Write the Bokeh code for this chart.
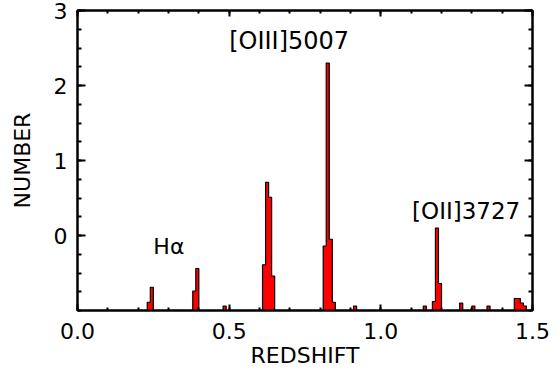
from bokeh.plotting import figure
from bokeh.models import (Range1d, FixedTicker, PrintfTickFormatter, LinearAxis,
                          ColumnDataSource, CustomJSTickFormatter)
from bokeh.core.properties import value
from bokeh.embed import file_html
from bokeh.resources import INLINE

# ---- data ----
bin_width = 0.01
bin_left = [0.23, 0.24, 0.38, 0.39, 0.48, 0.61, 0.62, 0.63, 0.64,
            0.81, 0.82, 0.83, 0.84, 0.91, 1.14, 1.17, 1.18, 1.19,
            1.26, 1.30, 1.35, 1.44, 1.45, 1.46, 1.47]
counts = [-0.89, -0.69, -0.74, -0.44, -0.94, -0.39, 0.71, 0.51, -0.54,
          -0.14, 2.30, -0.05, -0.89, -0.94, -0.94, -0.88, 0.10, -0.64,
          -0.90, -0.94, -0.94, -0.84, -0.84, -0.90, -0.94]
y_base = -1.0

x_ticks = [0.0, 0.5, 1.0, 1.5]
x_minor = [i / 10 for i in range(0, 16)]
y_ticks = [0, 1, 2, 3]
y_minor = [-1 + i * 0.25 for i in range(0, 17)]

ann_text = ["H\u03b1", "[OIII]5007", "[OII]3727"]
ann_x = [0.25, 0.50, 1.103]
ann_y = [-0.15, 2.59, 0.33]
ann_size = ["22px", "24px", "23px"]

FONT = "DejaVu Sans"

# ---- group contiguous bins into filled step outlines ----
groups = []
for l, c in zip(bin_left, counts):
    if groups and abs(groups[-1][-1][0] + bin_width - l) < 1e-6:
        groups[-1].append((l, c))
    else:
        groups.append([(l, c)])
xs, ys = [], []
for g in groups:
    gx, gy = [g[0][0]], [y_base]
    for l, c in g:
        gx += [l, l + bin_width]
        gy += [c, c]
    gx.append(g[-1][0] + bin_width)
    gy.append(y_base)
    xs.append(gx)
    ys.append(gy)

p = figure(frame_width=455, frame_height=300, output_backend="svg",
           toolbar_location=None, x_range=Range1d(0, 1.5), y_range=Range1d(-1, 3),
           min_border_left=77, min_border_top=10, min_border_right=24,
           min_border_bottom=60)
p.xgrid.visible = False
p.ygrid.visible = False
p.background_fill_color = "white"
p.border_fill_color = "white"
p.outline_line_color = "black"
p.outline_line_width = 2

p.patches(xs=xs, ys=ys, fill_color="#ff0000", line_color="black", line_width=1.2)

tsrc = ColumnDataSource(dict(x=ann_x, y=ann_y, text=ann_text, size=ann_size))
p.text(x="x", y="y", text="text", source=tsrc, text_font=value(FONT),
       text_font_size="size", text_color="black", text_align="left",
       text_baseline="alphabetic")

def style(ax, major_len, minor_len):
    ax.axis_line_width = 2
    ax.axis_line_color = "black"
    ax.major_tick_in = major_len
    ax.major_tick_out = 0
    ax.minor_tick_in = minor_len
    ax.minor_tick_out = 0
    ax.major_tick_line_width = 2
    ax.minor_tick_line_width = 2
    ax.major_label_text_font = FONT
    ax.major_label_text_font_size = "22px"
    ax.major_label_text_color = "black"
    ax.axis_label_text_font = FONT
    ax.axis_label_text_font_size = "22px"
    ax.axis_label_text_font_style = "normal"
    ax.axis_label_text_color = "black"

xa = p.xaxis[0]
xa.ticker = FixedTicker(ticks=x_ticks, minor_ticks=x_minor)
xa.formatter = PrintfTickFormatter(format="%.1f")
xa.axis_label = "REDSHIFT"
style(xa, 6, 3)
xa.major_label_standoff = 12
xa.axis_label_standoff = 1

ya = p.yaxis[0]
ya.ticker = FixedTicker(ticks=y_ticks, minor_ticks=y_minor)
ya.axis_label = "NUMBER"
style(ya, 8, 4)
ya.major_label_standoff = 10
ya.axis_label_standoff = 16

blank = CustomJSTickFormatter(code="return ''")
top_ax = LinearAxis(ticker=FixedTicker(ticks=x_ticks, minor_ticks=x_minor),
                    formatter=blank)
style(top_ax, 6, 3)
top_ax.major_label_text_font_size = "0px"
top_ax.major_label_standoff = 0
p.add_layout(top_ax, "above")

right_ax = LinearAxis(ticker=FixedTicker(ticks=y_ticks, minor_ticks=y_minor),
                      formatter=blank)
style(right_ax, 8, 4)
right_ax.major_label_text_font_size = "0px"
right_ax.major_label_standoff = 0
p.add_layout(right_ax, "right")

open("out.html", "w").write(file_html(p, INLINE))
